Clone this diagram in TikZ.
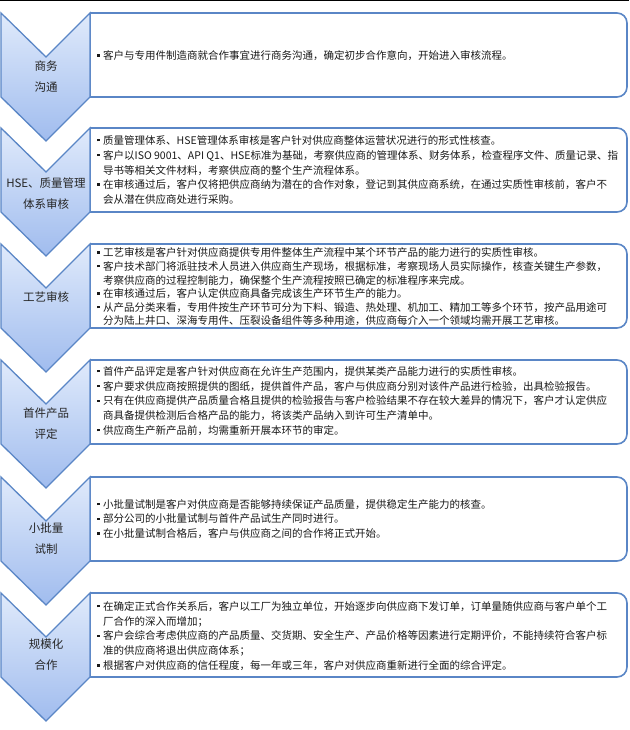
\documentclass[tikz,border=0pt]{standalone}
\usepackage{fontspec}
\setmainfont{Noto Sans CJK SC}
\newfontfamily\cjk{Noto Sans CJK SC}
\definecolor{chevtop}{HTML}{E0EAFB}
\definecolor{chevbot}{HTML}{A0BCEE}
\definecolor{edgeblue}{HTML}{5A86C6}
\newcommand{\bul}{\makebox[6pt][l]{\rule[3pt]{2.4pt}{2.4pt}}}
\newcommand{\cont}{\hspace*{6pt}}
\tikzset{
  chev/.style={top color=chevtop, bottom color=chevbot, draw=edgeblue, line width=1.3pt, line join=miter},
  infobox/.style={draw=edgeblue, line width=1.6pt, fill=white},
  lbl/.style={font=\cjk\fontsize{11.5}{21}\selectfont, align=center, text=black!85, inner sep=0pt},
  body/.style={font=\cjk\fontsize{10.5}{14.8}\selectfont, align=left, anchor=west, inner sep=0pt, text=black!90},
  tightbody/.style={body, font=\cjk\fontsize{10.5}{13.6}\selectfont}
}
\begin{document}
\begin{tikzpicture}[x=1pt,y=-1pt]
\useasboundingbox (0,0) rectangle (629,730);
\fill[white] (0,0) rectangle (629,730);
\fill[black] (0,0) rectangle (629,1.5);
\foreach \t in {13,128,244,360,477,593}{
  \path[infobox] (90,\t) [rounded corners=10pt] -- (627,\t) -- (627,\t+84) [sharp corners] -- (90,\t+84) -- (90,\t);
  \path[chev] (1,\t) -- (46,\t+44) -- (90,\t) -- (90,\t+84) -- (46,\t+128) -- (1,\t+84) -- cycle;
}
\node[lbl] (l1) at (46,77) {商务\\沟通};
\node[lbl] (l2) at (46,194) {HSE、质量管理\\体系审核};
\node[lbl] (l3) at (46,297) {工艺审核};
\node[lbl] (l4) at (46,424) {首件产品\\评定};
\node[lbl] (l5) at (46,539) {小批量\\试制};
\node[lbl] (l6) at (46,655) {规模化\\合作};

\node[body] (t1) at (97,56) {\bul 客户与专用件制造商就合作事宜进行商务沟通，确定初步合作意向，开始进入审核流程。};
\node[body] (t2) at (97,170) {\bul 质量管理体系、HSE管理体系审核是客户针对供应商整体运营状况进行的形式性核查。\\
\bul 客户以ISO 9001、API Q1、HSE标准为基础，考察供应商的管理体系、财务体系，检查程序文件、质量记录、指\\
\cont 导书等相关文件材料，考察供应商的整个生产流程体系。\\
\bul 在审核通过后，客户仅将把供应商纳为潜在的合作对象，登记到其供应商系统，在通过实质性审核前，客户不\\
\cont 会从潜在供应商处进行采购。};
\node[tightbody] (t3) at (97,287) {\bul 工艺审核是客户针对供应商提供专用件整体生产流程中某个环节产品的能力进行的实质性审核。\\
\bul 客户技术部门将派驻技术人员进入供应商生产现场，根据标准，考察现场人员实际操作，核查关键生产参数，\\
\cont 考察供应商的过程控制能力，确保整个生产流程按照已确定的标准程序来完成。\\
\bul 在审核通过后，客户认定供应商具备完成该生产环节生产的能力。\\
\bul 从产品分类来看，专用件按生产环节可分为下料、锻造、热处理、机加工、精加工等多个环节，按产品用途可\\
\cont 分为陆上井口、深海专用件、压裂设备组件等多种用途，供应商每介入一个领域均需开展工艺审核。};
\node[body] (t4) at (97,401) {\bul 首件产品评定是客户针对供应商在允许生产范围内，提供某类产品能力进行的实质性审核。\\
\bul 客户要求供应商按照提供的图纸，提供首件产品，客户与供应商分别对该件产品进行检验，出具检验报告。\\
\bul 只有在供应商提供产品质量合格且提供的检验报告与客户检验结果不存在较大差异的情况下，客户才认定供应\\
\cont 商具备提供检测后合格产品的能力，将该类产品纳入到许可生产清单中。\\
\bul 供应商生产新产品前，均需重新开展本环节的审定。};
\node[body] (t5) at (97,519) {\bul 小批量试制是客户对供应商是否能够持续保证产品质量，提供稳定生产能力的核查。\\
\bul 部分公司的小批量试制与首件产品试生产同时进行。\\
\bul 在小批量试制合格后，客户与供应商之间的合作将正式开始。};
\node[body] (t6) at (97,636) {\bul 在确定正式合作关系后，客户以工厂为独立单位，开始逐步向供应商下发订单，订单量随供应商与客户单个工\\
\cont 厂合作的深入而增加；\\
\bul 客户会综合考虑供应商的产品质量、交货期、安全生产、产品价格等因素进行定期评价，不能持续符合客户标\\
\cont 准的供应商将退出供应商体系；\\
\bul 根据客户对供应商的信任程度，每一年或三年，客户对供应商重新进行全面的综合评定。};
\end{tikzpicture}
\end{document}
